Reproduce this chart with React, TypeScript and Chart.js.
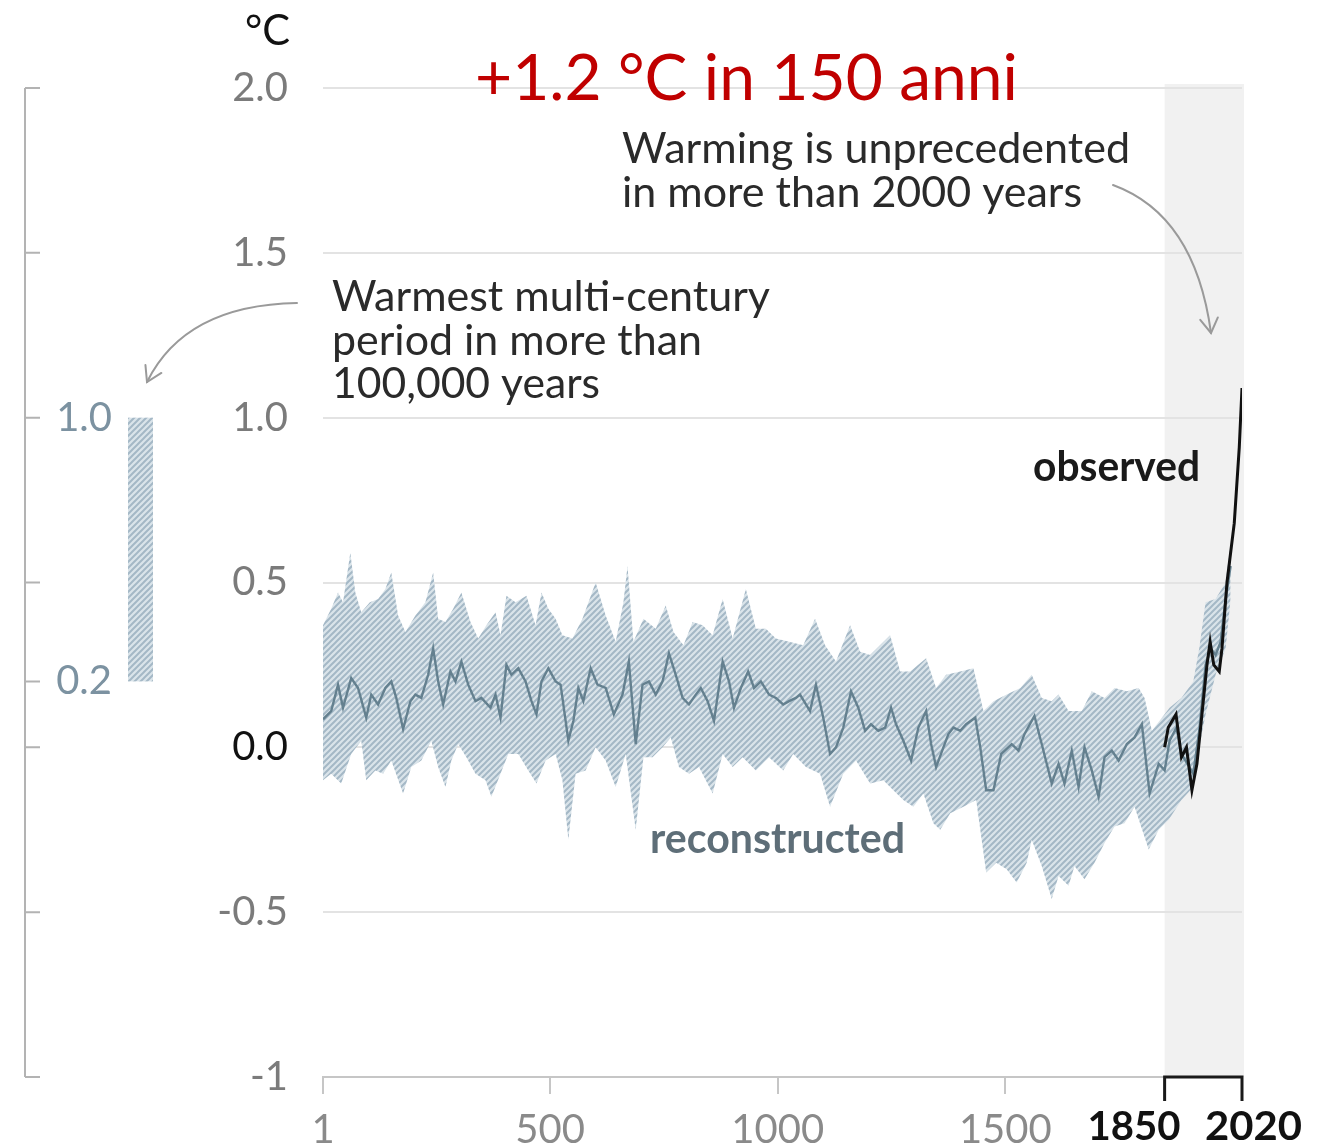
import React, { useEffect, useRef } from 'react';
import { Chart, registerables } from 'chart.js';

Chart.register(...registerables);

// ---------------- data ----------------
const meanYears = [1,19,34,45,63,78,96,107,122,138,151,162,177,193,204,217,232,243,254,265,281,292,305,320,336,349,369,380,391,404,415,430,446,459,470,481,496,512,523,540,551,562,573,589,604,622,640,659,673,688,703,717,732,747,761,776,791,805,820,831,846,860,879,893,904,919,935,948,963,981,996,1012,1025,1040,1049,1071,1084,1100,1115,1128,1144,1161,1177,1192,1205,1221,1236,1249,1260,1276,1293,1309,1326,1337,1348,1364,1375,1386,1401,1414,1434,1445,1458,1474,1491,1514,1529,1542,1564,1580,1602,1617,1630,1646,1661,1674,1690,1705,1718,1734,1749,1767,1784,1800,1817,1837,1850,1861,1876,1887,1900,1913,1926,1940,1951,1962,1973,1984,1995];
const meanValues = [0.085,0.11,0.19,0.12,0.21,0.18,0.09,0.16,0.13,0.18,0.20,0.15,0.055,0.14,0.16,0.15,0.22,0.30,0.20,0.13,0.23,0.20,0.26,0.19,0.14,0.15,0.12,0.16,0.09,0.25,0.22,0.24,0.20,0.14,0.10,0.20,0.24,0.20,0.19,0.02,0.08,0.18,0.14,0.24,0.19,0.18,0.10,0.16,0.26,0.01,0.19,0.20,0.16,0.20,0.285,0.22,0.15,0.13,0.16,0.18,0.14,0.08,0.26,0.20,0.12,0.18,0.23,0.18,0.20,0.16,0.15,0.13,0.14,0.15,0.16,0.11,0.19,0.09,-0.02,0.00,0.06,0.17,0.12,0.05,0.07,0.05,0.06,0.12,0.07,0.02,-0.04,0.06,0.11,0.01,-0.06,0.00,0.04,0.06,0.05,0.07,0.09,0.00,-0.13,-0.13,-0.02,0.01,-0.01,0.04,0.095,0.01,-0.11,-0.05,-0.11,-0.01,-0.12,0.00,-0.07,-0.15,-0.03,-0.01,-0.04,0.01,0.03,0.07,-0.14,-0.05,-0.07,0.02,0.06,-0.02,-0.05,-0.08,0.05,0.25,0.30,0.28,0.32,0.45,0.55];

const upperYears = [1,19,34,45,61,72,85,104,122,138,151,166,182,204,226,243,254,270,287,305,325,342,360,380,391,404,424,448,468,481,496,512,527,549,571,600,622,644,661,670,683,705,732,754,771,793,813,835,857,879,901,930,952,974,996,1025,1056,1082,1104,1128,1159,1181,1203,1247,1269,1291,1326,1348,1370,1401,1430,1452,1474,1503,1533,1558,1580,1602,1617,1639,1668,1690,1718,1740,1767,1793,1806,1822,1844,1861,1887,1913,1926,1940,1962,1984,1995];
const upperValues = [0.37,0.42,0.47,0.44,0.59,0.47,0.41,0.44,0.45,0.48,0.53,0.40,0.35,0.40,0.44,0.53,0.39,0.38,0.42,0.47,0.38,0.33,0.37,0.41,0.34,0.46,0.44,0.46,0.37,0.47,0.42,0.39,0.34,0.33,0.39,0.50,0.40,0.32,0.44,0.55,0.32,0.39,0.36,0.43,0.35,0.31,0.38,0.37,0.34,0.45,0.33,0.48,0.36,0.36,0.33,0.32,0.31,0.39,0.31,0.26,0.37,0.29,0.28,0.34,0.23,0.23,0.27,0.18,0.22,0.23,0.24,0.11,0.14,0.16,0.18,0.22,0.15,0.14,0.16,0.11,0.11,0.17,0.15,0.18,0.17,0.18,0.15,0.05,0.09,0.12,0.15,0.20,0.30,0.44,0.45,0.50,0.62];

const lowerYears = [1,19,41,63,85,96,116,133,151,177,195,217,239,254,270,283,298,316,336,358,371,391,408,430,452,470,490,512,527,540,556,578,600,622,644,666,688,705,725,747,765,783,805,827,857,879,901,923,952,981,1012,1034,1062,1093,1115,1144,1172,1203,1232,1254,1276,1298,1320,1342,1357,1379,1408,1436,1458,1480,1503,1525,1547,1558,1580,1602,1617,1639,1652,1674,1696,1718,1740,1762,1784,1815,1837,1859,1887,1913,1926,1940,1962,1984,1995];
const lowerValues = [-0.10,-0.08,-0.11,-0.02,0.02,-0.10,-0.07,-0.08,-0.04,-0.14,-0.06,-0.04,0.02,-0.06,-0.12,-0.04,0.01,-0.03,-0.08,-0.10,-0.15,-0.08,-0.02,-0.02,-0.07,-0.11,-0.04,-0.02,-0.10,-0.28,-0.08,-0.07,0.00,-0.04,-0.12,-0.02,-0.25,-0.03,-0.03,0.00,0.03,-0.06,-0.08,-0.06,-0.14,-0.02,-0.06,-0.03,-0.07,-0.03,-0.07,-0.02,-0.06,-0.08,-0.18,-0.08,-0.04,-0.11,-0.10,-0.13,-0.16,-0.18,-0.14,-0.23,-0.25,-0.20,-0.18,-0.16,-0.38,-0.35,-0.37,-0.41,-0.35,-0.28,-0.36,-0.46,-0.39,-0.42,-0.36,-0.40,-0.35,-0.29,-0.24,-0.23,-0.18,-0.31,-0.25,-0.22,-0.16,-0.12,0.00,0.10,0.22,0.30,0.45];

const observedYears = [1850,1858,1875,1887,1898,1910,1921,1932,1943,1950,1958,1970,1976,1987,2003,2014,2020];
const observedValues = [0.00,0.06,0.10,-0.03,0.00,-0.13,-0.05,0.10,0.25,0.32,0.25,0.23,0.30,0.50,0.68,0.91,1.09];

const xTickValues = [1, 500, 1000, 1500, 1850, 2020];
const boldXTicks = [1850, 2020];
const shadeRange = [1850, 2020];
const leftAxisTicks = [2, 1.5, 1, 0.5, 0.2, 0, -0.5, -1];
const leftAxisLabels = [1.0, 0.2];
const warmestRange = [0.2, 1.0];

const titleText = '+1.2 °C in 150 anni';
const unitText = '°C';
const warmingLines = ['Warming is unprecedented', 'in more than 2000 years'];
const warmestLines = ['Warmest multi-century', 'period in more than', '100,000 years'];
const observedLabel = 'observed';
const reconLabel = 'reconstructed';

const toPts = (xs: number[], ys: number[]) => xs.map((x, i) => ({ x, y: ys[i] }));

function makeHatch(ctx: CanvasRenderingContext2D) {
  const c = document.createElement('canvas');
  c.width = 6; c.height = 6;
  const g = c.getContext('2d')!;
  g.fillStyle = '#dae4ea';
  g.fillRect(0, 0, 6, 6);
  g.strokeStyle = '#a4b8c6';
  g.lineWidth = 2;
  g.beginPath();
  g.moveTo(-1, 7); g.lineTo(7, -1);
  g.moveTo(-1, 1); g.lineTo(1, -1);
  g.moveTo(5, 7); g.lineTo(7, 5);
  g.stroke();
  return ctx.createPattern(c, 'repeat')!;
}

function fitText(ctx: CanvasRenderingContext2D, text: string, left: number, baseline: number, width: number, font: string, color: string) {
  ctx.save();
  ctx.font = font;
  ctx.fillStyle = color;
  ctx.textAlign = 'left';
  ctx.textBaseline = 'alphabetic';
  const w = ctx.measureText(text).width;
  ctx.translate(left, baseline);
  ctx.scale(width / w, 1);
  ctx.fillText(text, 0, 0);
  ctx.restore();
}

function arrow(ctx: CanvasRenderingContext2D, p0: number[], c: number[], p1: number[]) {
  ctx.save();
  ctx.strokeStyle = '#9a9a9a';
  ctx.lineWidth = 2;
  ctx.lineCap = 'round';
  ctx.beginPath();
  ctx.moveTo(p0[0], p0[1]);
  ctx.quadraticCurveTo(c[0], c[1], p1[0], p1[1]);
  ctx.stroke();
  const ang = Math.atan2(p1[1] - c[1], p1[0] - c[0]);
  const L = 17;
  ctx.beginPath();
  ctx.moveTo(p1[0] - L * Math.cos(ang - 0.55), p1[1] - L * Math.sin(ang - 0.55));
  ctx.lineTo(p1[0], p1[1]);
  ctx.lineTo(p1[0] - L * Math.cos(ang + 0.55), p1[1] - L * Math.sin(ang + 0.55));
  ctx.stroke();
  ctx.restore();
}

export default function App() {
  const ref = useRef<HTMLCanvasElement>(null);

  useEffect(() => {
    document.body.style.margin = '0';
    const canvas = ref.current!;
    const hatch = makeHatch(canvas.getContext('2d')!);

    const overlay = {
      id: 'overlay',
      beforeDraw(chart: any) {
        const { ctx, chartArea, scales } = chart;
        const x = scales.x;
        const x0 = x.getPixelForValue(shadeRange[0]);
        const x1 = x.getPixelForValue(shadeRange[1]);
        ctx.save();
        ctx.fillStyle = '#f1f1f1';
        ctx.fillRect(x0, chartArea.top - 4, x1 - x0 + 2, chartArea.bottom - chartArea.top + 4);
        ctx.restore();
      },
      afterDraw(chart: any) {
        const { ctx, scales } = chart;
        const x = scales.x, y = scales.y;

        // left bracket axis
        ctx.save();
        ctx.strokeStyle = '#b3b3b3';
        ctx.lineWidth = 2;
        ctx.beginPath();
        ctx.moveTo(25, y.getPixelForValue(2));
        ctx.lineTo(25, y.getPixelForValue(-1));
        leftAxisTicks.forEach(v => {
          const py = y.getPixelForValue(v);
          ctx.moveTo(25, py);
          ctx.lineTo(40, py);
        });
        ctx.stroke();
        ctx.font = '40px Lato';
        ctx.fillStyle = '#7c92a1';
        ctx.textAlign = 'right';
        ctx.textBaseline = 'middle';
        leftAxisLabels.forEach(v => ctx.fillText(v.toFixed(1), 112, y.getPixelForValue(v)));
        // warmest multi-century range bar
        const yTop = y.getPixelForValue(warmestRange[1]);
        const yBot = y.getPixelForValue(warmestRange[0]);
        ctx.fillStyle = hatch;
        ctx.fillRect(128, yTop, 25, yBot - yTop);
        ctx.restore();

        // bracket 1850-2020
        const b0 = x.getPixelForValue(shadeRange[0]);
        const b1 = x.getPixelForValue(shadeRange[1]);
        const yb = y.getPixelForValue(-1);
        ctx.save();
        ctx.strokeStyle = '#1a1a1a';
        ctx.lineWidth = 3;
        ctx.beginPath();
        ctx.moveTo(b0, yb + 24); ctx.lineTo(b0, yb); ctx.lineTo(b1, yb); ctx.lineTo(b1, yb + 24);
        ctx.stroke();
        ctx.restore();
        fitText(ctx, String(boldXTicks[0]), b0 - 77, 1140, 93, 'bold 40px Lato', '#111');
        fitText(ctx, String(boldXTicks[1]), b1 - 37, 1140, 97, 'bold 40px Lato', '#111');

        // unit
        fitText(ctx, unitText, 245, 45, 45, '42px Lato', '#111');
        // title
        fitText(ctx, titleText, 475, 100, 543, '64px Lato', '#c00000');
        // annotations
        fitText(ctx, warmingLines[0], 622, 163, 508, '42px Lato', '#2a2a2a');
        fitText(ctx, warmingLines[1], 622, 207, 460, '42px Lato', '#2a2a2a');
        fitText(ctx, warmestLines[0], 332, 311, 438, '42px Lato', '#2a2a2a');
        fitText(ctx, warmestLines[1], 332, 355, 370, '42px Lato', '#2a2a2a');
        fitText(ctx, warmestLines[2], 332, 398, 268, '42px Lato', '#2a2a2a');
        fitText(ctx, observedLabel, 1033, 481, 167, 'bold 42px Lato', '#1a1a1a');
        fitText(ctx, reconLabel, 650, 853, 255, 'bold 42px Lato', '#5e6e78');

        arrow(ctx, [297, 303], [185, 305], [147, 382]);
        arrow(ctx, [1113, 185], [1195, 215], [1211, 333]);
      },
    };

    const chart = new Chart(canvas, {
      type: 'line',
      data: {
        datasets: [
          {
            label: 'upper',
            data: toPts(upperYears, upperValues),
            borderWidth: 0,
            borderColor: 'rgba(0,0,0,0)',
            pointRadius: 0,
            fill: '+1',
            backgroundColor: hatch as any,
            order: 3,
          },
          {
            label: 'lower',
            data: toPts(lowerYears, lowerValues),
            borderWidth: 0,
            borderColor: 'rgba(0,0,0,0)',
            pointRadius: 0,
            fill: false,
            order: 3,
          },
          {
            label: 'reconstructed',
            data: toPts(meanYears, meanValues),
            borderColor: '#64808f',
            borderWidth: 2.4,
            pointRadius: 0,
            fill: false,
            order: 1,
          },
          {
            label: 'observed',
            data: toPts(observedYears, observedValues),
            borderColor: '#111111',
            borderWidth: 3,
            pointRadius: 0,
            fill: false,
            order: 0,
          },
        ],
      },
      options: {
        animation: false,
        responsive: false,
        events: [],
        layout: { padding: { top: 88, right: 83, left: 0, bottom: 0 } },
        plugins: { legend: { display: false }, tooltip: { enabled: false } },
        scales: {
          x: {
            type: 'linear',
            min: 1,
            max: 2020,
            afterFit: (s: any) => { s.height = 68; },
            afterBuildTicks: (s: any) => { s.ticks = xTickValues.map(v => ({ value: v })); },
            border: { display: true, color: '#c6c6c6', width: 2 },
            grid: { drawOnChartArea: false, drawTicks: true, tickLength: 17, color: '#c6c6c6', lineWidth: 2 },
            ticks: {
              autoSkip: false,
              maxRotation: 0,
              minRotation: 0,
              padding: 12,
              color: '#8a8a8a',
              font: { family: 'Lato', size: 40 },
              callback: (v: any) => (boldXTicks.includes(Number(v)) ? '' : String(v)),
            },
          },
          y: {
            min: -1,
            max: 2,
            afterFit: (s: any) => { s.width = 323; },
            border: { display: false },
            grid: {
              drawTicks: false,
              lineWidth: 2,
              color: (c: any) => (c.tick && c.tick.value === -1 ? 'rgba(0,0,0,0)' : '#e3e3e3'),
            },
            ticks: {
              stepSize: 0.5,
              padding: 35,
              color: (c: any) => (c.tick && c.tick.value === 0 ? '#111' : '#7b7b7b'),
              font: { family: 'Lato', size: 40 },
              callback: (v: any) => (Number(v) === -1 ? '-1' : Number(v).toFixed(1)),
            },
          },
        },
      },
      plugins: [overlay],
    } as any);

    return () => chart.destroy();
  }, []);

  return (
    <canvas
      ref={ref}
      width={1325}
      height={1145}
      style={{ display: 'block', width: 1325, height: 1145 }}
    />
  );
}
